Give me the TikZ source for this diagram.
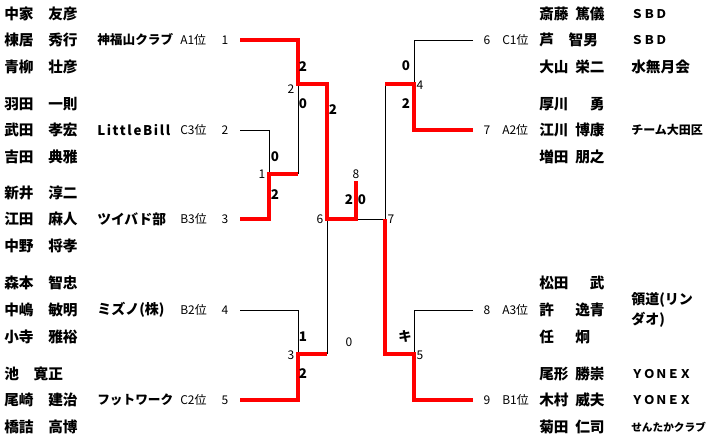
\documentclass[tikz,border=0pt]{standalone}
\usepackage{fontspec}
\setmainfont{Noto Sans CJK JP}[WordSpace=2]
\usepackage{tikz}
\usetikzlibrary{positioning}

\begin{document}
\begin{tikzpicture}[x=0.75pt, y=-0.75pt,
    win/.style={red, line width=3pt},
    lose/.style={black, line width=0.75pt},
    player/.style={anchor=west, inner sep=0pt, font=\bfseries\fontsize{11}{11}\selectfont},
    team/.style={anchor=west, inner sep=0pt, font=\bfseries\fontsize{9.5}{9.5}\selectfont},
    rank/.style={anchor=west, inner sep=0pt, font=\fontsize{9}{9}\selectfont},
    seed/.style={inner sep=0pt, font=\fontsize{9}{9}\selectfont},
    score/.style={inner sep=0pt, font=\bfseries\fontsize{10}{10}\selectfont}]

    \useasboundingbox (0,0) rectangle (713,439);

    % Players, left half
    \foreach \y/\nm [count=\i] in {14/中家　友彦, 40/棟居　秀行, 67/青柳　壮彦,
        104/羽田　一則, 130/武田　孝宏, 157/吉田　典雅,
        193/新井　淳二, 219/江田　麻人, 246/中野　将孝,
        283/森本　智忠, 310/中嶋　敏明, 337/小寺　雅裕,
        374/池　寛正, 400/尾崎　建治, 427/橋詰　高博}
        \node[player] (pl\i) at (4,\y) {\nm};

    % Players, right half
    \foreach \y/\nm [count=\i] in {14/斎藤 篤儀, 40/芦　智男, 67/大山 栄二,
        104/厚川　 勇, 130/江川 博康, 157/増田 朋之,
        283/松田　 武, 310/許　 逸青, 337/任　 炯,
        374/尾形 勝崇, 400/木村 威夫, 427/菊田 仁司}
        \node[player] (pr\i) at (539,\y) {\nm};

    % Seeds, ranks and teams, left
    \foreach \y/\s/\rk/\tm in {40/1/A1位/神福山クラブ, 130/2/C3位/LittleBill,
        219/3/B3位/ツイバド部, 310/4/B2位/ミズノ(株), 400/5/C2位/フットワーク} {
        \node[seed] (s\s) at (225,\y) {\s};
        \node[rank] (r\s) at (180,\y) {\rk};
        \coordinate (e\s) at (240,\y);
    }
    \node[team] (t1) at (97,40) {神福山クラブ};
    \node[team, font=\bfseries\fontsize{10}{10}\selectfont\addfontfeature{LetterSpace=12}] (t2) at (97,130) {LittleBill};
    \node[team, font=\bfseries\fontsize{10.3}{10.3}\selectfont] (t3) at (97,219) {ツイバド部};
    \node[team, font=\bfseries\fontsize{10.5}{10.5}\selectfont] (t4) at (97,310) {ミズノ(株)};
    \node[team] (t5) at (97,400) {フットワーク};

    % Seeds and ranks, right
    \foreach \y/\s/\rk in {40/6/C1位, 130/7/A2位, 310/8/A3位, 400/9/B1位} {
        \node[seed] (s\s) at (487,\y) {\s};
        \node[rank] (r\s) at (502,\y) {\rk};
        \coordinate (e\s) at (473,\y);
    }

    % Teams, right
    \node[team, font=\bfseries\fontsize{9}{9}\selectfont] (ta) at (631,14) {ＳＢＤ};
    \node[team, font=\bfseries\fontsize{9}{9}\selectfont] (tb) at (631,40) {ＳＢＤ};
    \node[player] (tc) at (631,67) {水無月会};
    \node[team, font=\bfseries\fontsize{9}{9}\selectfont] (td) at (631,130) {チーム大田区};
    \node[team, font=\bfseries\fontsize{10.5}{10.5}\selectfont] (te) at (631,300) {領道(リン};
    \node[team, font=\bfseries\fontsize{10.5}{10.5}\selectfont] (tf) at (631,320) {ダオ)};
    \node[team, font=\bfseries\fontsize{9}{9}\selectfont] (tg) at (631,374) {ＹＯＮＥＸ};
    \node[team, font=\bfseries\fontsize{9}{9}\selectfont] (th) at (631,400) {ＹＯＮＥＸ};
    \node[team, font=\bfseries\fontsize{8}{8}\selectfont] (ti) at (631,427) {せんたかクラブ};

    % Match points
    \coordinate (m1) at (269,174);
    \coordinate (m2) at (298,84);
    \coordinate (m3) at (298,354);
    \coordinate (m6) at (327,219);
    \coordinate (m8) at (356,181);
    \coordinate (m7) at (385,219);
    \coordinate (m4) at (414,84);
    \coordinate (m5) at (414,354);

    % Losing lines
    \draw[lose] (e2) -| (m1);
    \draw[lose] (m1 -| m2) -- (m2);
    \draw[lose] (e4) -| (m3);
    \draw[lose] (m3 -| m6) -- (m6);
    \draw[lose] (m8 |- m6) -- (m7) -- (m7 |- m4);
    \draw[lose] (e6) -| (m4);
    \draw[lose] (e8) -| (m5);

    % Winning lines
    \draw[win] (e1) -| (m2) -| (m6) -| (m8);
    \draw[win] (e3) -| (m1) -- (m1 -| m2);
    \draw[win] (e5) -| (m3) -- (m3 -| m6);
    \draw[win] (m7 |- m4) -- (m4) |- (e7);
    \draw[win] (m7) |- (m5) |- (e9);

    % Match numbers
    \node[seed] (n1) at (262,174) {1};
    \node[seed] (n2) at (291,89) {2};
    \node[seed] (n3) at (291,355) {3};
    \node[seed] (n6) at (320,219) {6};
    \node[seed] (n8) at (356,174) {8};
    \node[seed] (n7) at (391,219) {7};
    \node[seed] (n4) at (420,85) {4};
    \node[seed] (n5) at (420,355) {5};

    % Scores
    \node[score] (a1) at (275,157) {0};
    \node[score] (b1) at (275,195) {2};
    \node[score] (a2) at (303,67) {2};
    \node[score] (b2) at (303,104) {0};
    \node[score] (a6) at (333,110) {2};
    \node[score] (a8) at (349,200) {2};
    \node[score] (b8) at (362,200) {0};
    \node[score] (a3) at (303,337) {1};
    \node[score] (b3) at (303,374) {2};
    \node[score] (a4) at (406,66) {0};
    \node[score] (b4) at (406,104) {2};
    \node[score] (a5) at (405,336) {キ};
    \node[seed] (z0) at (349,342) {0};
\end{tikzpicture}
\end{document}
